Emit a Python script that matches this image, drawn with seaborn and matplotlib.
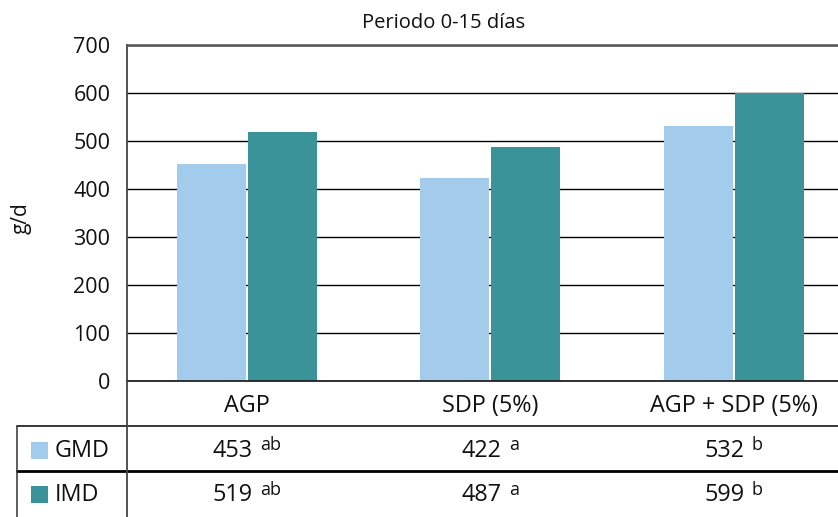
import matplotlib
matplotlib.use("Agg")
import matplotlib.pyplot as plt
import matplotlib.transforms as mtrans
from matplotlib.patches import Rectangle
from matplotlib.lines import Line2D
import seaborn as sns
import pandas as pd

# ---------------- data ----------------
categories = ["AGP", "SDP (5%)", "AGP + SDP (5%)"]
series_names = ["GMD", "IMD"]
gmd_values = [453, 422, 532]
imd_values = [519, 487, 599]
gmd_letters = ["ab", "a", "b"]
imd_letters = ["ab", "a", "b"]
y_ticks = [0, 100, 200, 300, 400, 500, 600, 700]
title_text = "Periodo 0-15 días"
y_label = "g/d"
colors = ["#A3CBEB", "#3A9399"]

# ---------------- setup ----------------
W, H, DPI = 838, 517, 100
sns.set_theme(style="white")
plt.rcParams['font.family'] = ['Open Sans', 'DejaVu Sans']

FS_TICK = 15.5
FS_TAB = 16.8
FS_SUP = 13
TXT = "#111111"

df = pd.DataFrame({
    "category": categories * 2,
    "series": [series_names[0]] * 3 + [series_names[1]] * 3,
    "value": gmd_values + imd_values,
})

fig = plt.figure(figsize=(W / DPI, H / DPI), dpi=DPI)


def fx(px):
    return px / W


def fy(py):
    return 1 - py / H


ax = fig.add_axes([fx(127), fy(381), fx(838) - fx(127), fy(45) - fy(381)])
sns.barplot(data=df, x="category", y="value", hue="series",
            order=categories, hue_order=series_names,
            palette=colors, width=0.585, gap=0.03, linewidth=0,
            saturation=1, legend=False, ax=ax)

ax.set_xlim(-0.492, -0.492 + 711 / 243.5)
ax.set_ylim(0, 700)
ax.set_yticks(y_ticks)
ax.set_yticklabels([str(t) for t in y_ticks], fontsize=FS_TICK)
ax.yaxis.grid(True, color="black", lw=1.0)
ax.xaxis.grid(False)
ax.set_axisbelow(True)
ax.tick_params(axis="y", length=0, pad=12, colors=TXT)
ax.tick_params(axis="x", length=0, pad=22, labelsize=FS_TAB, colors=TXT)
for lab in ax.get_xticklabels():
    lab.set_va("baseline")
ax.set_xlabel("")
ax.set_ylabel("")
ax.spines["right"].set_visible(False)
ax.spines["top"].set_color("#555555")
ax.spines["top"].set_linewidth(1.8)
ax.spines["left"].set_color("#444444")
ax.spines["left"].set_linewidth(1.3)
ax.spines["bottom"].set_color("#222222")
ax.spines["bottom"].set_linewidth(1.3)

# title and y label
fig.text(fx(444), fy(28), title_text, ha="center", va="baseline", fontsize=14.5, color=TXT)
fig.text(fx(21), fy(218), y_label, ha="center", va="center", rotation=90, fontsize=15, color=TXT)

# ---------------- table ----------------
def fline(xs, ys, lw, color="black"):
    fig.add_artist(Line2D([fx(x) for x in xs], [fy(y) for y in ys],
                          transform=fig.transFigure, color=color, lw=lw))


fline([17, 838], [426, 426], 1.1)
fline([17, 838], [471, 471], 2.0)
fline([17, 17], [426, 517], 1.1, "#333333")
fline([127, 127], [381, 517], 1.3, "#444444")

rows = [
    (series_names[0], gmd_values, gmd_letters, colors[0], 457, 450),
    (series_names[1], imd_values, imd_letters, colors[1], 501, 495),
]
blend = mtrans.blended_transform_factory(ax.transData, fig.transFigure)
cells = []
for name, vals, letters, col, base_y, sup_y in rows:
    fig.add_artist(Rectangle((fx(31), fy(base_y + 2)), fx(17), fy(0) - fy(17),
                             transform=fig.transFigure, facecolor=col, edgecolor="none"))
    fig.text(fx(55), fy(base_y), name, ha="left", va="baseline", fontsize=FS_TAB, color=TXT)
    for i, (v, l) in enumerate(zip(vals, letters)):
        t1 = ax.text(i, fy(base_y), str(v), transform=blend, ha="right", va="baseline",
                     fontsize=FS_TAB, color=TXT)
        t2 = ax.text(i, fy(sup_y), l, transform=blend, ha="left", va="baseline",
                     fontsize=FS_SUP, color=TXT)
        cells.append((t1, t2))

fig.canvas.draw()
r = fig.canvas.get_renderer()
gap = 7
for t1, t2 in cells:
    w1 = t1.get_window_extent(r).width
    w2 = t2.get_window_extent(r).width
    total = w1 + gap + w2
    dx1 = -total / 2 + w1
    dx2 = dx1 + gap
    t1.set_transform(mtrans.offset_copy(blend, fig=fig, x=dx1, y=0, units="dots"))
    t2.set_transform(mtrans.offset_copy(blend, fig=fig, x=dx2, y=0, units="dots"))
    t1.set_clip_on(False)
    t2.set_clip_on(False)

fig.savefig("out.png", dpi=DPI)
